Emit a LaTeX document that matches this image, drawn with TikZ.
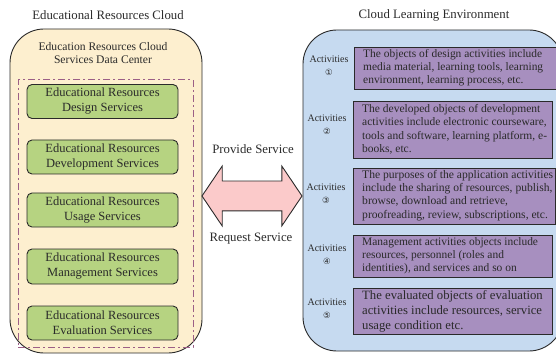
\documentclass[tikz,border=0pt]{standalone}
\usepackage{fontspec}
\setmainfont{Liberation Serif}
\newfontfamily\circfont{DejaVu Sans}
\usepackage{xcolor}
\usepackage{tikz}
\usetikzlibrary{shapes}
\definecolor{cloud_fill}{HTML}{FDEFCF}
\definecolor{env_fill}{HTML}{C6DAF0}
\definecolor{service_fill}{HTML}{B6D381}
\definecolor{object_fill}{HTML}{A78FBF}
\definecolor{arrow_fill}{HTML}{FBCACA}
\definecolor{dash_col}{HTML}{9C5F86}
\definecolor{ink}{HTML}{2A2A2A}
\tikzset{ title_text/.style = {text=ink, align=center, font=\fontsize{12.8}{14.5}\selectfont} }
\tikzset{ outer_box/.style = {draw=ink, line width=0.9pt, rectangle, rounded corners=34pt} }
\tikzset{ service_box/.style = {rectangle, rounded corners=5pt, draw=ink, line width=0.9pt, fill=service_fill, text=ink, align=center, minimum width=151pt, minimum height=34pt, inner sep=0pt, font=\fontsize{12.5}{15}\selectfont} }
\tikzset{ object_box/.style = {rectangle, draw=ink, line width=0.9pt, fill=object_fill, inner sep=0pt} }
\tikzset{ object_text/.style = {anchor=west, text=ink, align=left, inner sep=0pt, font=\fontsize{11.45}{13.2}\selectfont} }
\tikzset{ act_text/.style = {text=ink, align=center, inner sep=0pt, font=\fontsize{10}{13}\selectfont} }

\begin{document}
\begin{tikzpicture}[x=1pt,y=-1pt]
    \clip (0,0) rectangle (556,355);
    % left side
    \node[title_text] (cloud_title) at (108,15) {Educational Resources Cloud};
    \node[outer_box, fill=cloud_fill, minimum width=192pt, minimum height=324pt] (cloud) at (106,191) {};
    \node[title_text, font=\fontsize{11.6}{13.2}\selectfont] (center_title) at (103,53) {Education Resources Cloud\\Services Data Center};
    \node[rectangle, draw=dash_col, line width=1pt, dash pattern=on 7pt off 3pt on 2pt off 3pt, minimum width=175pt, minimum height=267pt] (center) at (105.5,213.5) {};
    \node[service_box] (design) at (102.5,101.5) {Educational Resources\\Design Services};
    \node[service_box] (develop) at (102.5,157) {Educational Resources\\Development Services};
    \node[service_box] (usage) at (102.5,210) {Educational Resources\\Usage Services};
    \node[service_box, minimum height=35pt] (manage) at (102.5,266.5) {Educational Resources\\Management Services};
    \node[service_box] (evaluate) at (102.5,323) {Educational Resources\\Evaluation Services};
    % right side
    \node[title_text] (env_title) at (434,15) {Cloud Learning Environment};
    \node[outer_box, fill=env_fill, minimum width=260pt, minimum height=321pt] (env) at (433,190.5) {};
    \node[object_box, minimum width=202pt, minimum height=42pt] (obj_a) at (455,68) {};
    \node[object_box, minimum width=199pt, minimum height=57pt] (obj_b) at (452.5,129.5) {};
    \node[object_box, minimum width=202pt, minimum height=56pt] (obj_c) at (454,196) {};
    \node[object_box, minimum width=199pt, minimum height=42pt] (obj_d) at (452.5,256) {};
    \node[object_box, minimum width=199pt, minimum height=46pt] (obj_e) at (452.5,311) {};
    \node[object_text] (text_a) at (363,68) {The objects of design activities include\\media material, learning tools, learning\\environment, learning process, etc.};
    \node[object_text, font=\fontsize{11.5}{13.4}\selectfont] (text_b) at (362,129.5) {The developed objects of development\\activities include electronic courseware,\\tools and software, learning platform, e-\\books, etc.};
    \node[object_text, font=\fontsize{11.6}{13.2}\selectfont] (text_c) at (362,195.5) {The purposes of the application activities\\include the sharing of resources, publish,\\browse, download and retrieve,\\proofreading, review, subscriptions, etc.};
    \node[object_text] (text_d) at (362,256) {Management activities objects include\\resources, personnel (roles and\\identities), and services and so on};
    \node[object_text, font=\fontsize{12.7}{15}\selectfont] (text_e) at (362,311) {The evaluated objects of evaluation\\activities include resources, service\\usage condition etc.};
    \node[act_text] (act_a) at (329,66) {Activities\\{\circfont\fontsize{8.5}{13}\selectfont ①}};
    \node[act_text] (act_b) at (327,125) {Activities\\{\circfont\fontsize{8.5}{13}\selectfont ②}};
    \node[act_text] (act_c) at (326,194) {Activities\\{\circfont\fontsize{8.5}{13}\selectfont ③}};
    \node[act_text] (act_d) at (327,255) {Activities\\{\circfont\fontsize{8.5}{13}\selectfont ④}};
    \node[act_text] (act_e) at (327,309) {Activities\\{\circfont\fontsize{8.5}{13}\selectfont ⑤}};
    % arrow between the two
    \node[double arrow, draw=ink, line width=0.9pt, fill=arrow_fill, inner sep=0pt, text width=0pt, text height=29pt, text depth=0pt, minimum height=100pt, double arrow head extend=15pt, double arrow tip angle=112] (service) at (252,196) {};
    \node[title_text] (provide) at (253,149) {Provide Service};
    \node[title_text] (request) at (251,239) {Request Service};
\end{tikzpicture}
\end{document}
